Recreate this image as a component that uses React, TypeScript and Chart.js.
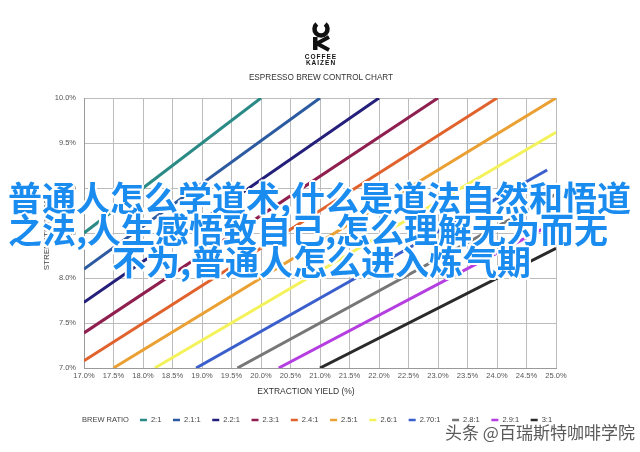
import React, { useEffect, useRef } from 'react';
import { Chart, registerables } from 'chart.js';
Chart.register(...registerables);

// ---- data ----
const brewRatios = ['2:1', '2.1:1', '2.2:1', '2.3:1', '2.4:1', '2.5:1', '2.6:1', '2.70:1', '2.8:1', '2.9:1', '3:1'];
const startYield = [17.0, 17.0, 17.0, 17.0, 17.0, 17.5, 18.2, 18.9, 19.6, 20.3, 21.0];
const startStrength = [8.5, 8.1, 7.73, 7.39, 7.08, 7.0, 7.0, 7.0, 7.0, 7.0, 7.0];
const endYield = [20.0, 21.0, 22.0, 23.0, 24.0, 25.0, 25.0, 24.85, 25.0, 24.85, 25.0];
const endStrength = [10.0, 10.0, 10.0, 10.0, 10.0, 10.0, 9.62, 9.2, 8.93, 8.57, 8.33];
const yieldTicks = [17.0, 17.5, 18.0, 18.5, 19.0, 19.5, 20.0, 20.5, 21.0, 21.5, 22.0, 22.5, 23.0, 23.5, 24.0, 24.5, 25.0];
const strengthTicks = [7.0, 7.5, 8.0, 8.5, 9.0, 9.5, 10.0];

const lineColors = ['#2a8a86', '#2c5aa0', '#231f7a', '#8e1f4f', '#e0622c', '#eaa032', '#f4f25a', '#3a5fcd', '#777777', '#b43ee0', '#2a2a2a'];

const FONT = '"Liberation Sans", Arial, sans-serif';

const extrasPlugin = {
  id: 'extras',
  afterDraw(chart: any) {
    const ctx = chart.ctx as CanvasRenderingContext2D;
    const area = chart.chartArea;
    ctx.save();
    // y axis title
    ctx.fillStyle = '#444';
    ctx.font = `8px ${FONT}`;
    ctx.textAlign = 'center';
    ctx.textBaseline = 'middle';
    ctx.translate(47, (area.top + area.bottom) / 2);
    ctx.rotate(-Math.PI / 2);
    ctx.fillText('STRENGTH (%TDS)', 0, 0);
    ctx.restore();

    ctx.save();
    // x axis title
    ctx.fillStyle = '#333';
    ctx.font = `8.5px ${FONT}`;
    ctx.textAlign = 'center';
    ctx.textBaseline = 'middle';
    ctx.fillText('EXTRACTION YIELD (%)', 306, 392);

    // legend
    ctx.font = `7.5px ${FONT}`;
    ctx.textAlign = 'left';
    ctx.fillStyle = '#444';
    const ly = 420;
    let x = 82;
    ctx.fillText('BREW RATIO', x, ly);
    x += ctx.measureText('BREW RATIO').width + 11;
    chart.data.datasets.forEach((ds: any) => {
      ctx.fillStyle = ds.borderColor;
      ctx.fillRect(x, ly - 1.25, 7, 2.5);
      x += 11;
      ctx.fillStyle = '#444';
      ctx.fillText(ds.label, x, ly);
      x += ctx.measureText(ds.label).width + 11.6;
    });
    ctx.restore();
  },
};

export default function App() {
  const ref = useRef<HTMLCanvasElement>(null);
  useEffect(() => {
    document.body.style.margin = '0';
    const datasets = brewRatios.map((label, i) => ({
      label,
      data: [
        { x: startYield[i], y: startStrength[i] },
        { x: endYield[i], y: endStrength[i] },
      ],
      borderColor: lineColors[i],
      backgroundColor: lineColors[i],
      borderWidth: 3,
      pointRadius: 0,
      fill: false,
      tension: 0,
      clip: 0,
    }));
    const tickFont = { family: FONT, size: 7.5 };
    const chart = new Chart(ref.current as HTMLCanvasElement, {
      type: 'line',
      data: { datasets } as any,
      options: {
        responsive: false,
        animation: false,
        devicePixelRatio: 1,
        layout: { padding: { left: 0, right: 84, top: 98, bottom: 64 } },
        plugins: {
          legend: { display: false },
          tooltip: { enabled: false },
          title: { display: false },
        },
        scales: {
          x: {
            type: 'linear',
            min: 17,
            max: 25,
            afterBuildTicks: (s: any) => {
              s.ticks = yieldTicks.map((v) => ({ value: v }));
            },
            afterFit: (s: any) => {
              s.height = 20;
            },
            grid: { color: '#bcbcbc', drawTicks: false, lineWidth: 1 },
            border: { color: '#9a9a9a' },
            ticks: {
              padding: 3,
              font: tickFont,
              color: '#555',
              maxRotation: 0,
              autoSkip: false,
              callback: (v: any) => Number(v).toFixed(1) + '%',
            },
          },
          y: {
            type: 'linear',
            min: 7,
            max: 10,
            afterBuildTicks: (s: any) => {
              s.ticks = strengthTicks.map((v) => ({ value: v }));
            },
            afterFit: (s: any) => {
              s.width = 84;
            },
            grid: { color: '#bcbcbc', drawTicks: false, lineWidth: 1 },
            border: { color: '#9a9a9a' },
            ticks: {
              padding: 8,
              font: tickFont,
              color: '#555',
              autoSkip: false,
              callback: (v: any) => Number(v).toFixed(1) + '%',
            },
          },
        },
      } as any,
      plugins: [extrasPlugin],
    });
    return () => chart.destroy();
  }, []);

  const cjk = '"Noto Sans CJK SC", sans-serif';
  const outline =
    '2px 0 0 #fff, -2px 0 0 #fff, 0 2px 0 #fff, 0 -2px 0 #fff, 1.5px 1.5px 0 #fff, -1.5px -1.5px 0 #fff, 1.5px -1.5px 0 #fff, -1.5px 1.5px 0 #fff';
  const bigText: React.CSSProperties = {
    position: 'absolute',
    fontFamily: cjk,
    fontWeight: 700,
    fontSize: 34,
    lineHeight: '34px',
    color: '#1a8cf0',
    whiteSpace: 'nowrap',
    textShadow: outline,
  };

  return (
    <div style={{ position: 'fixed', left: 0, top: 0, width: 640, height: 452, background: '#fff', overflow: 'hidden' }}>
      <canvas ref={ref} width={640} height={452} style={{ position: 'absolute', left: 0, top: 0 }} />
      <svg style={{ position: 'absolute', left: 300, top: 0 }} width={42} height={54}>
        <path d="M 25.18 24.02 A 6.5 6.5 0 1 1 16.82 24.02" fill="none" stroke="#111" strokeWidth={4.5} />
        <rect x={13} y={37} width={4.5} height={13} fill="#111" />
        <path d="M 17 43.5 L 29 37 M 17 43.5 L 29 50" stroke="#111" strokeWidth={4} fill="none" />
      </svg>
      <div style={{ position: 'absolute', left: 281, top: 54, width: 80, textAlign: 'center', fontFamily: FONT, fontWeight: 700, fontSize: 6.5, lineHeight: '6px', letterSpacing: 1, color: '#111' }}>
        COFFEE
      </div>
      <div style={{ position: 'absolute', left: 281, top: 60, width: 80, textAlign: 'center', fontFamily: FONT, fontWeight: 700, fontSize: 6.5, lineHeight: '6px', letterSpacing: 1, color: '#111' }}>
        KAIZEN
      </div>
      <div style={{ position: 'absolute', left: 201, top: 73, width: 240, textAlign: 'center', fontFamily: FONT, fontSize: 8.2, lineHeight: '10px', color: '#333' }}>
        ESPRESSO BREW CONTROL CHART
      </div>
      <div style={{ ...bigText, left: 8, top: 180 }}>普通人怎么学道术,什么是道法自然和悟道</div>
      <div style={{ ...bigText, left: 8, top: 212 }}>之法,人生感悟致自己,怎么理解无为而无</div>
      <div style={{ ...bigText, left: 112, top: 244 }}>不为,普通人怎么进入炼气期</div>
      <div
        style={{
          position: 'absolute',
          left: 445,
          top: 422,
          fontFamily: cjk,
          fontSize: 17,
          lineHeight: '20px',
          color: '#5a5a5a',
          whiteSpace: 'nowrap',
          textShadow: '1px 1px 0 #fff, -1px -1px 0 #fff, 1px -1px 0 #fff, -1px 1px 0 #fff',
        }}
      >
        头条 @百瑞斯特咖啡学院
      </div>
    </div>
  );
}
